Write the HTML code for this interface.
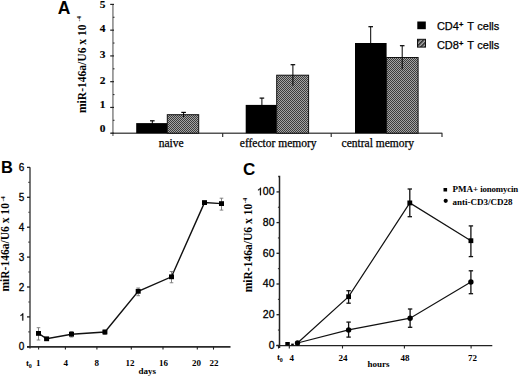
<!DOCTYPE html>
<html><head><meta charset="utf-8"><style>
html,body{margin:0;padding:0;background:#fff;}
svg{display:block;}
</style></head><body>
<svg width="520" height="378" viewBox="0 0 520 378">
<defs>
<pattern id="chk" width="2" height="2" patternUnits="userSpaceOnUse"><rect width="2" height="2" fill="#a4a4a4"/><rect width="1" height="1" fill="#3c3c3c"/><rect x="1" y="1" width="1" height="1" fill="#3c3c3c"/></pattern>
<pattern id="diag" width="3" height="3" patternUnits="userSpaceOnUse" patternTransform="rotate(-45)"><rect width="3" height="3" fill="#aaa"/><rect width="3" height="1.5" fill="#222"/></pattern>
</defs>
<text x="57.8" y="13.85" font-family="'Liberation Sans', sans-serif" font-weight="bold" font-size="17.5">A</text>
<line x1="112.9" y1="4.3" x2="112.9" y2="136" stroke="#999" stroke-width="1.8"/>
<line x1="111.5" y1="133.2" x2="442.3" y2="133.2" stroke="#555" stroke-width="1.6"/>
<line x1="110.2" y1="133.2" x2="114" y2="133.2" stroke="#222" stroke-width="1.2"/>
<text x="105.4" y="132.1" text-anchor="end" font-family="'Liberation Serif', serif" font-weight="bold" font-size="11.4" stroke="#000" stroke-width="0.15">0</text>
<line x1="112.9" y1="120.32" x2="114.5" y2="120.32" stroke="#333" stroke-width="1.1"/>
<line x1="110.2" y1="107.44" x2="114" y2="107.44" stroke="#222" stroke-width="1.2"/>
<text x="105.4" y="108.3" text-anchor="end" font-family="'Liberation Serif', serif" font-weight="bold" font-size="11.4" stroke="#000" stroke-width="0.15">1</text>
<line x1="112.9" y1="94.56" x2="114.5" y2="94.56" stroke="#333" stroke-width="1.1"/>
<line x1="110.2" y1="81.68" x2="114" y2="81.68" stroke="#222" stroke-width="1.2"/>
<text x="105.4" y="84.2" text-anchor="end" font-family="'Liberation Serif', serif" font-weight="bold" font-size="11.4" stroke="#000" stroke-width="0.15">2</text>
<line x1="112.9" y1="68.8" x2="114.5" y2="68.8" stroke="#333" stroke-width="1.1"/>
<line x1="110.2" y1="55.92" x2="114" y2="55.92" stroke="#222" stroke-width="1.2"/>
<text x="105.4" y="57.7" text-anchor="end" font-family="'Liberation Serif', serif" font-weight="bold" font-size="11.4" stroke="#000" stroke-width="0.15">3</text>
<line x1="112.9" y1="43.04" x2="114.5" y2="43.04" stroke="#333" stroke-width="1.1"/>
<line x1="110.2" y1="30.16" x2="114" y2="30.16" stroke="#222" stroke-width="1.2"/>
<text x="105.4" y="32.3" text-anchor="end" font-family="'Liberation Serif', serif" font-weight="bold" font-size="11.4" stroke="#000" stroke-width="0.15">4</text>
<line x1="112.9" y1="17.28" x2="114.5" y2="17.28" stroke="#333" stroke-width="1.1"/>
<line x1="110.2" y1="4.4" x2="114" y2="4.4" stroke="#222" stroke-width="1.2"/>
<text x="105.4" y="8.4" text-anchor="end" font-family="'Liberation Serif', serif" font-weight="bold" font-size="11.4" stroke="#000" stroke-width="0.15">5</text>
<line x1="222.7" y1="133.2" x2="222.7" y2="137" stroke="#222" stroke-width="1.1"/>
<line x1="331.2" y1="133.2" x2="331.2" y2="137" stroke="#222" stroke-width="1.1"/>
<line x1="442" y1="133.2" x2="442" y2="137" stroke="#222" stroke-width="1.1"/>
<rect x="136.2" y="123.1" width="31.1" height="10.1" fill="#000"/>
<line x1="152.3" y1="120.8" x2="152.3" y2="125.4" stroke="#000" stroke-width="1"/>
<line x1="150" y1="120.8" x2="154.6" y2="120.8" stroke="#000" stroke-width="1.2"/>
<rect x="167.3" y="114.7" width="31.4" height="18.5" fill="url(#chk)" stroke="#111" stroke-width="1"/>
<line x1="183.6" y1="112.4" x2="183.6" y2="117" stroke="#000" stroke-width="1"/>
<line x1="181.3" y1="112.4" x2="185.9" y2="112.4" stroke="#000" stroke-width="1.2"/>
<rect x="245.7" y="104.9" width="31" height="28.3" fill="#000"/>
<line x1="261.9" y1="98.1" x2="261.9" y2="111.7" stroke="#000" stroke-width="1"/>
<line x1="259.6" y1="98.1" x2="264.2" y2="98.1" stroke="#000" stroke-width="1.2"/>
<rect x="276.7" y="75.2" width="31.9" height="58" fill="url(#chk)" stroke="#111" stroke-width="1"/>
<line x1="292.9" y1="64.7" x2="292.9" y2="85.7" stroke="#000" stroke-width="1"/>
<line x1="290.6" y1="64.7" x2="295.2" y2="64.7" stroke="#000" stroke-width="1.2"/>
<rect x="355.0" y="43.0" width="31.6" height="90.2" fill="#000"/>
<line x1="370.7" y1="26.7" x2="370.7" y2="59.3" stroke="#000" stroke-width="1"/>
<line x1="368.4" y1="26.7" x2="373" y2="26.7" stroke="#000" stroke-width="1.2"/>
<rect x="386.6" y="57.5" width="31.5" height="75.7" fill="url(#chk)" stroke="#111" stroke-width="1"/>
<line x1="402.2" y1="45.7" x2="402.2" y2="69.3" stroke="#000" stroke-width="1"/>
<line x1="399.9" y1="45.7" x2="404.5" y2="45.7" stroke="#000" stroke-width="1.2"/>
<text x="158.7" y="147" font-family="'Liberation Serif', serif" font-size="11.5" stroke="#000" stroke-width="0.25">naive</text>
<text x="239.8" y="147" font-family="'Liberation Serif', serif" font-size="11.5" stroke="#000" stroke-width="0.25">effector memory</text>
<text x="341.6" y="147" font-family="'Liberation Serif', serif" font-size="11.5" stroke="#000" stroke-width="0.25">central memory</text>
<text transform="translate(85.8,113) rotate(-90)" font-family="'Liberation Serif', serif" font-weight="bold" font-size="11.55">miR-146a/U6 x 10<tspan font-size="6.5" dx="3" dy="-4.9">-4</tspan></text>
<rect x="417.3" y="21.5" width="8.5" height="7.7" fill="#000"/>
<rect x="417.5" y="39.3" width="8" height="7.8" fill="url(#diag)" stroke="#111" stroke-width="1"/>
<text x="436.9" y="30.2" font-family="'Liberation Sans', sans-serif" font-size="11" stroke="#000" stroke-width="0.25">CD4<tspan font-size="7.5" dy="-3.2" font-weight="bold">+</tspan><tspan dy="3.2" dx="3.9">T</tspan><tspan dx="0.5"> cells</tspan></text>
<text x="436.9" y="49.3" font-family="'Liberation Sans', sans-serif" font-size="11" stroke="#000" stroke-width="0.25">CD8<tspan font-size="7.5" dy="-3.2" font-weight="bold">+</tspan><tspan dy="3.2" dx="3.9">T</tspan><tspan dx="0.5"> cells</tspan></text>
<text x="1.1" y="172.9" font-family="'Liberation Sans', sans-serif" font-weight="bold" font-size="16.5">B</text>
<line x1="30" y1="167.3" x2="30" y2="348.6" stroke="#333" stroke-width="1.35"/>
<line x1="27" y1="346.8" x2="230.5" y2="346.8" stroke="#2a2a2a" stroke-width="1.7"/>
<line x1="27" y1="346.8" x2="30" y2="346.8" stroke="#222" stroke-width="1.3"/>
<text x="24.2" y="350.4" text-anchor="end" font-family="'Liberation Sans', sans-serif" font-size="10" stroke="#000" stroke-width="0.3">0</text>
<line x1="28.3" y1="331.85" x2="30" y2="331.85" stroke="#444" stroke-width="1.1"/>
<line x1="27" y1="316.9" x2="30" y2="316.9" stroke="#222" stroke-width="1.3"/>
<path transform="translate(19.5,320.5) scale(0.004883,-0.004883)" d="M763 0H583V1147Q518 1085 412 1023Q306 961 221 930V1104Q372 1175 485 1276Q598 1377 645 1472H763Z" fill="#000" stroke="#000" stroke-width="0.3" vector-effect="non-scaling-stroke"/>
<line x1="28.3" y1="301.95" x2="30" y2="301.95" stroke="#444" stroke-width="1.1"/>
<line x1="27" y1="287" x2="30" y2="287" stroke="#222" stroke-width="1.3"/>
<text x="24.2" y="290.6" text-anchor="end" font-family="'Liberation Sans', sans-serif" font-size="10" stroke="#000" stroke-width="0.3">2</text>
<line x1="28.3" y1="272.05" x2="30" y2="272.05" stroke="#444" stroke-width="1.1"/>
<line x1="27" y1="257.1" x2="30" y2="257.1" stroke="#222" stroke-width="1.3"/>
<text x="24.2" y="260.7" text-anchor="end" font-family="'Liberation Sans', sans-serif" font-size="10" stroke="#000" stroke-width="0.3">3</text>
<line x1="28.3" y1="242.15" x2="30" y2="242.15" stroke="#444" stroke-width="1.1"/>
<line x1="27" y1="227.2" x2="30" y2="227.2" stroke="#222" stroke-width="1.3"/>
<text x="24.2" y="230.8" text-anchor="end" font-family="'Liberation Sans', sans-serif" font-size="10" stroke="#000" stroke-width="0.3">4</text>
<line x1="28.3" y1="212.25" x2="30" y2="212.25" stroke="#444" stroke-width="1.1"/>
<line x1="27" y1="197.3" x2="30" y2="197.3" stroke="#222" stroke-width="1.3"/>
<text x="24.2" y="200.9" text-anchor="end" font-family="'Liberation Sans', sans-serif" font-size="10" stroke="#000" stroke-width="0.3">5</text>
<line x1="28.3" y1="182.35" x2="30" y2="182.35" stroke="#444" stroke-width="1.1"/>
<line x1="27" y1="167.4" x2="30" y2="167.4" stroke="#222" stroke-width="1.3"/>
<text x="24.2" y="171" text-anchor="end" font-family="'Liberation Sans', sans-serif" font-size="10" stroke="#000" stroke-width="0.3">6</text>
<line x1="38.6" y1="346.8" x2="38.6" y2="349.6" stroke="#222" stroke-width="1.1"/>
<line x1="65.4" y1="346.8" x2="65.4" y2="349.6" stroke="#222" stroke-width="1.1"/>
<line x1="96.9" y1="346.8" x2="96.9" y2="349.6" stroke="#222" stroke-width="1.1"/>
<line x1="131.3" y1="346.8" x2="131.3" y2="349.6" stroke="#222" stroke-width="1.1"/>
<line x1="163" y1="346.8" x2="163" y2="349.6" stroke="#222" stroke-width="1.1"/>
<line x1="197.3" y1="346.8" x2="197.3" y2="349.6" stroke="#222" stroke-width="1.1"/>
<line x1="213.5" y1="346.8" x2="213.5" y2="349.6" stroke="#222" stroke-width="1.1"/>
<text x="36.0" y="365.7" font-family="'Liberation Serif', serif" font-weight="bold" font-size="9">1</text>
<text x="63.6" y="365.7" font-family="'Liberation Serif', serif" font-weight="bold" font-size="9">4</text>
<text x="94.5" y="365.7" font-family="'Liberation Serif', serif" font-weight="bold" font-size="9">8</text>
<text x="125.5" y="365.7" font-family="'Liberation Serif', serif" font-weight="bold" font-size="9">12</text>
<text x="159.0" y="365.7" font-family="'Liberation Serif', serif" font-weight="bold" font-size="9">16</text>
<text x="191.9" y="365.7" font-family="'Liberation Serif', serif" font-weight="bold" font-size="9">20</text>
<text x="209.6" y="365.7" font-family="'Liberation Serif', serif" font-weight="bold" font-size="9">22</text>
<text x="25.9" y="365.7" font-family="'Liberation Serif', serif" font-weight="bold" font-size="9">t<tspan font-size="6" dy="1.9" dx="-0.2">0</tspan></text>
<text x="138.6" y="373.8" font-family="'Liberation Serif', serif" font-weight="bold" font-size="9">days</text>
<polyline points="38.5,333.4 46.6,338.8 71.5,334.2 104.9,332 138.2,291.3 171.5,276.8 204.5,202.6 221.5,203.6" fill="none" stroke="#111" stroke-width="1.4"/>
<line x1="38.5" y1="327.7" x2="38.5" y2="340" stroke="#777" stroke-width="0.9"/>
<line x1="36.7" y1="327.7" x2="40.3" y2="327.7" stroke="#777" stroke-width="0.9"/>
<line x1="36.7" y1="340" x2="40.3" y2="340" stroke="#777" stroke-width="0.9"/>
<line x1="71.5" y1="331.5" x2="71.5" y2="337" stroke="#777" stroke-width="0.9"/>
<line x1="69.7" y1="331.5" x2="73.3" y2="331.5" stroke="#777" stroke-width="0.9"/>
<line x1="69.7" y1="337" x2="73.3" y2="337" stroke="#777" stroke-width="0.9"/>
<line x1="104.9" y1="330" x2="104.9" y2="334.5" stroke="#777" stroke-width="0.9"/>
<line x1="103.10000000000001" y1="330" x2="106.7" y2="330" stroke="#777" stroke-width="0.9"/>
<line x1="103.10000000000001" y1="334.5" x2="106.7" y2="334.5" stroke="#777" stroke-width="0.9"/>
<line x1="138.2" y1="288" x2="138.2" y2="295.7" stroke="#777" stroke-width="0.9"/>
<line x1="136.39999999999998" y1="288" x2="140.0" y2="288" stroke="#777" stroke-width="0.9"/>
<line x1="136.39999999999998" y1="295.7" x2="140.0" y2="295.7" stroke="#777" stroke-width="0.9"/>
<line x1="171.5" y1="271.5" x2="171.5" y2="282.75" stroke="#777" stroke-width="0.9"/>
<line x1="169.7" y1="271.5" x2="173.3" y2="271.5" stroke="#777" stroke-width="0.9"/>
<line x1="169.7" y1="282.75" x2="173.3" y2="282.75" stroke="#777" stroke-width="0.9"/>
<line x1="204.5" y1="201" x2="204.5" y2="204.5" stroke="#777" stroke-width="0.9"/>
<line x1="202.7" y1="201" x2="206.3" y2="201" stroke="#777" stroke-width="0.9"/>
<line x1="202.7" y1="204.5" x2="206.3" y2="204.5" stroke="#777" stroke-width="0.9"/>
<line x1="221.5" y1="198.2" x2="221.5" y2="210.1" stroke="#777" stroke-width="0.9"/>
<line x1="219.7" y1="198.2" x2="223.3" y2="198.2" stroke="#777" stroke-width="0.9"/>
<line x1="219.7" y1="210.1" x2="223.3" y2="210.1" stroke="#777" stroke-width="0.9"/>
<rect x="36" y="331" width="5" height="4.8" fill="#000"/>
<rect x="44.1" y="336.4" width="5" height="4.8" fill="#000"/>
<rect x="69" y="331.8" width="5" height="4.8" fill="#000"/>
<rect x="102.4" y="329.6" width="5" height="4.8" fill="#000"/>
<rect x="135.7" y="288.9" width="5" height="4.8" fill="#000"/>
<rect x="169" y="274.4" width="5" height="4.8" fill="#000"/>
<rect x="202" y="200.2" width="5" height="4.8" fill="#000"/>
<rect x="219" y="201.2" width="5" height="4.8" fill="#000"/>
<text transform="translate(9.3,291.6) rotate(-90)" font-family="'Liberation Serif', serif" font-weight="bold" font-size="11.55">miR-146a/U6 x 10<tspan font-size="6.5" dx="1.5" dy="-4.8">-4</tspan></text>
<text x="243.1" y="174.6" font-family="'Liberation Sans', sans-serif" font-weight="bold" font-size="17">C</text>
<polyline points="278.2,176.5 279.5,176.5 279.5,348" fill="none" stroke="#222" stroke-width="1.5"/>
<line x1="276.3" y1="345.6" x2="492.3" y2="345.6" stroke="#222" stroke-width="1.4"/>
<line x1="276.5" y1="345.4" x2="279.5" y2="345.4" stroke="#222" stroke-width="1.3"/>
<text x="274.5" y="348.7" text-anchor="end" font-family="'Liberation Sans', sans-serif" font-size="10.5" stroke="#000" stroke-width="0.3">0</text>
<line x1="277.9" y1="330.05" x2="279.5" y2="330.05" stroke="#333" stroke-width="1.1"/>
<line x1="276.5" y1="314.7" x2="279.5" y2="314.7" stroke="#222" stroke-width="1.3"/>
<text x="274.5" y="318" text-anchor="end" font-family="'Liberation Sans', sans-serif" font-size="10.5" stroke="#000" stroke-width="0.3">20</text>
<line x1="277.9" y1="299.35" x2="279.5" y2="299.35" stroke="#333" stroke-width="1.1"/>
<line x1="276.5" y1="284" x2="279.5" y2="284" stroke="#222" stroke-width="1.3"/>
<text x="274.5" y="287.3" text-anchor="end" font-family="'Liberation Sans', sans-serif" font-size="10.5" stroke="#000" stroke-width="0.3">40</text>
<line x1="277.9" y1="268.65" x2="279.5" y2="268.65" stroke="#333" stroke-width="1.1"/>
<line x1="276.5" y1="253.3" x2="279.5" y2="253.3" stroke="#222" stroke-width="1.3"/>
<text x="274.5" y="256.6" text-anchor="end" font-family="'Liberation Sans', sans-serif" font-size="10.5" stroke="#000" stroke-width="0.3">60</text>
<line x1="277.9" y1="237.95" x2="279.5" y2="237.95" stroke="#333" stroke-width="1.1"/>
<line x1="276.5" y1="222.6" x2="279.5" y2="222.6" stroke="#222" stroke-width="1.3"/>
<text x="274.5" y="225.9" text-anchor="end" font-family="'Liberation Sans', sans-serif" font-size="10.5" stroke="#000" stroke-width="0.3">80</text>
<line x1="277.9" y1="207.25" x2="279.5" y2="207.25" stroke="#333" stroke-width="1.1"/>
<line x1="276.5" y1="191.9" x2="279.5" y2="191.9" stroke="#222" stroke-width="1.3"/>
<path transform="translate(256.98,195.2) scale(0.005127,-0.005127)" d="M763 0H583V1147Q518 1085 412 1023Q306 961 221 930V1104Q372 1175 485 1276Q598 1377 645 1472H763Z" fill="#000" stroke="#000" stroke-width="0.3" vector-effect="non-scaling-stroke"/>
<text x="274.5" y="195.2" text-anchor="end" font-family="'Liberation Sans', sans-serif" font-size="10.5" stroke="#000" stroke-width="0.3">00</text>
<line x1="278.5" y1="345.4" x2="278.5" y2="348.5" stroke="#222" stroke-width="1.1"/>
<line x1="289.3" y1="345.4" x2="289.3" y2="348.5" stroke="#222" stroke-width="1.1"/>
<line x1="342.5" y1="345.4" x2="342.5" y2="348.5" stroke="#222" stroke-width="1.1"/>
<line x1="404.4" y1="345.4" x2="404.4" y2="348.5" stroke="#222" stroke-width="1.1"/>
<line x1="471.1" y1="345.4" x2="471.1" y2="348.5" stroke="#222" stroke-width="1.1"/>
<text x="289.4" y="360.5" font-family="'Liberation Serif', serif" font-weight="bold" font-size="9">4</text>
<text x="338.5" y="360.5" font-family="'Liberation Serif', serif" font-weight="bold" font-size="9">24</text>
<text x="400.4" y="360.5" font-family="'Liberation Serif', serif" font-weight="bold" font-size="9">48</text>
<text x="468.0" y="360.5" font-family="'Liberation Serif', serif" font-weight="bold" font-size="9">72</text>
<text x="277" y="360.3" font-family="'Liberation Serif', serif" font-weight="bold" font-size="9">t<tspan font-size="6" dy="1.9" dx="-0.2">0</tspan></text>
<text x="367.6" y="366.6" font-family="'Liberation Serif', serif" font-weight="bold" font-size="9">hours</text>
<polyline points="297.5,343 348.6,296.7 409.8,202.9 470.9,240.7" fill="none" stroke="#111" stroke-width="1.2"/>
<polyline points="297.5,343 348.6,329.9 410.1,318.2 470.9,282" fill="none" stroke="#111" stroke-width="1.2"/>
<line x1="348.6" y1="290.7" x2="348.6" y2="303.2" stroke="#111" stroke-width="1.3"/>
<line x1="346.40000000000003" y1="290.7" x2="350.8" y2="290.7" stroke="#111" stroke-width="1.3"/>
<line x1="346.40000000000003" y1="303.2" x2="350.8" y2="303.2" stroke="#111" stroke-width="1.3"/>
<line x1="409.8" y1="189" x2="409.8" y2="216.7" stroke="#111" stroke-width="1.3"/>
<line x1="407.6" y1="189" x2="412.0" y2="189" stroke="#111" stroke-width="1.3"/>
<line x1="407.6" y1="216.7" x2="412.0" y2="216.7" stroke="#111" stroke-width="1.3"/>
<line x1="470.9" y1="225.9" x2="470.9" y2="256.6" stroke="#111" stroke-width="1.3"/>
<line x1="468.7" y1="225.9" x2="473.09999999999997" y2="225.9" stroke="#111" stroke-width="1.3"/>
<line x1="468.7" y1="256.6" x2="473.09999999999997" y2="256.6" stroke="#111" stroke-width="1.3"/>
<line x1="348.6" y1="322.1" x2="348.6" y2="337.1" stroke="#111" stroke-width="1.3"/>
<line x1="346.40000000000003" y1="322.1" x2="350.8" y2="322.1" stroke="#111" stroke-width="1.3"/>
<line x1="346.40000000000003" y1="337.1" x2="350.8" y2="337.1" stroke="#111" stroke-width="1.3"/>
<line x1="410.1" y1="309" x2="410.1" y2="327.3" stroke="#111" stroke-width="1.3"/>
<line x1="407.90000000000003" y1="309" x2="412.3" y2="309" stroke="#111" stroke-width="1.3"/>
<line x1="407.90000000000003" y1="327.3" x2="412.3" y2="327.3" stroke="#111" stroke-width="1.3"/>
<line x1="470.9" y1="270.8" x2="470.9" y2="293.7" stroke="#111" stroke-width="1.3"/>
<line x1="468.7" y1="270.8" x2="473.09999999999997" y2="270.8" stroke="#111" stroke-width="1.3"/>
<line x1="468.7" y1="293.7" x2="473.09999999999997" y2="293.7" stroke="#111" stroke-width="1.3"/>
<rect x="346.2" y="294.3" width="4.8" height="4.8" fill="#000"/>
<rect x="407.4" y="200.5" width="4.8" height="4.8" fill="#000"/>
<rect x="468.5" y="238.3" width="4.8" height="4.8" fill="#000"/>
<rect x="285.3" y="342" width="4.5" height="3.4" fill="#000"/>
<rect x="291.2" y="343.6" width="2.6" height="1.8" fill="#000"/>
<circle cx="297.5" cy="343" r="2.7" fill="#000"/>
<circle cx="348.6" cy="329.9" r="2.7" fill="#000"/>
<circle cx="410.1" cy="318.2" r="2.7" fill="#000"/>
<circle cx="470.9" cy="282" r="2.7" fill="#000"/>
<rect x="443.5" y="188" width="3.6" height="3.5" fill="#000"/>
<circle cx="445.7" cy="200.8" r="2.1" fill="#000"/>
<text x="452.4" y="191.5" font-family="'Liberation Serif', serif" font-weight="bold" font-size="9">PMA+ <tspan font-size="8.8" letter-spacing="-0.15">ionomycin</tspan></text>
<text x="452.4" y="204.8" font-family="'Liberation Serif', serif" font-weight="bold" font-size="9">anti-CD3/CD28</text>
<text transform="translate(251.7,292.3) rotate(-90)" font-family="'Liberation Serif', serif" font-weight="bold" font-size="11.55">miR-146a/U6 x 10<tspan font-size="6.5" dx="0.5" dy="-4.8">-4</tspan></text>
</svg>
</body></html>
